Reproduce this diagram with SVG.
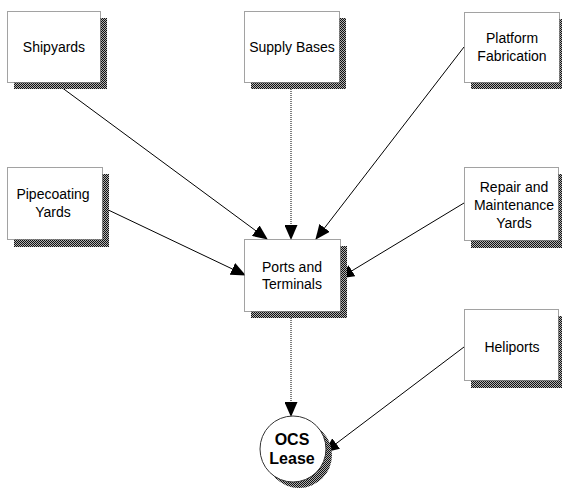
<svg xmlns="http://www.w3.org/2000/svg" width="562" height="493" viewBox="0 0 562 493">
<defs>
<pattern id="dith" width="2" height="2" patternUnits="userSpaceOnUse">
<rect width="2" height="2" fill="#b0b0b0"/>
<rect width="1" height="1" fill="#111"/>
<rect x="1" y="1" width="1" height="1" fill="#111"/>
</pattern>
<marker id="ah" markerWidth="15" markerHeight="13" refX="14" refY="6.5" orient="auto" markerUnits="userSpaceOnUse">
<path d="M0,0 L15,6.5 L0,13 z" fill="#000"/>
</marker>
</defs>
<style>
.sh{fill:url(#dith);}
.bx{fill:#fff;stroke:#444;stroke-width:1;stroke-dasharray:1 1;}
.t{font-family:"Liberation Sans",Arial,sans-serif;font-size:14px;fill:#000;text-anchor:middle;}
.tb{font-family:"Liberation Sans",Arial,sans-serif;font-size:16px;font-weight:bold;fill:#000;text-anchor:middle;}
.ln{stroke:#000;stroke-width:1;fill:none;marker-end:url(#ah);}
.dl{stroke:#000;stroke-width:1;fill:none;stroke-dasharray:1 1;marker-end:url(#ah);}
</style>
<g id="connectors">
<line class="ln" x1="57" y1="84" x2="267" y2="239"/>
<line class="dl" x1="291" y1="89" x2="291" y2="239"/>
<line class="ln" x1="464" y1="47" x2="316" y2="239"/>
<line class="ln" x1="102" y1="207" x2="245" y2="275"/>
<line class="ln" x1="464" y1="203" x2="340" y2="278"/>
<line class="dl" x1="291" y1="318" x2="291" y2="416"/>
<line class="ln" x1="464" y1="347" x2="325" y2="452"/>
</g>
<g id="shipyards">
<rect class="sh" x="14" y="18" width="93" height="71"/>
<rect class="bx" x="7.5" y="11.5" width="93" height="71"/>
<text class="t" x="54" y="52">Shipyards</text>
</g>
<g id="supply-bases">
<rect class="sh" x="251" y="18" width="95" height="71"/>
<rect class="bx" x="244.5" y="11.5" width="95" height="71"/>
<text class="t" x="292" y="52">Supply Bases</text>
</g>
<g id="platform-fabrication">
<rect class="sh" x="471" y="19" width="95" height="70"/>
<rect class="bx" x="464.5" y="12.5" width="95" height="70"/>
<text class="t" x="512" y="43">Platform</text>
<text class="t" x="512" y="61">Fabrication</text>
</g>
<g id="pipecoating-yards">
<rect class="sh" x="14" y="174" width="95" height="73"/>
<rect class="bx" x="7.5" y="167.5" width="95" height="72"/>
<text class="t" x="53" y="199">Pipecoating</text>
<text class="t" x="53" y="217">Yards</text>
</g>
<g id="repair-yards">
<rect class="sh" x="471" y="174" width="95" height="74"/>
<rect class="bx" x="464.5" y="167.5" width="94" height="73"/>
<text class="t" x="514" y="192">Repair and</text>
<text class="t" x="514" y="210">Maintenance</text>
<text class="t" x="514" y="228">Yards</text>
</g>
<g id="ports-terminals">
<rect class="sh" x="251" y="246" width="96" height="72"/>
<rect class="bx" x="244.5" y="239.5" width="96" height="72"/>
<text class="t" x="292" y="272">Ports and</text>
<text class="t" x="292" y="289">Terminals</text>
</g>
<g id="heliports">
<rect class="sh" x="471" y="316" width="95" height="72"/>
<rect class="bx" x="464.5" y="309.5" width="94" height="71"/>
<text class="t" x="512" y="352">Heliports</text>
</g>
<g id="ocs-lease">
<circle class="sh" cx="299" cy="455" r="33"/>
<circle cx="293" cy="449" r="33" fill="#fff" stroke="#333" stroke-width="1"/>
<text class="tb" x="292" y="445">OCS</text>
<text class="tb" x="292" y="464">Lease</text>
</g>
</svg>
